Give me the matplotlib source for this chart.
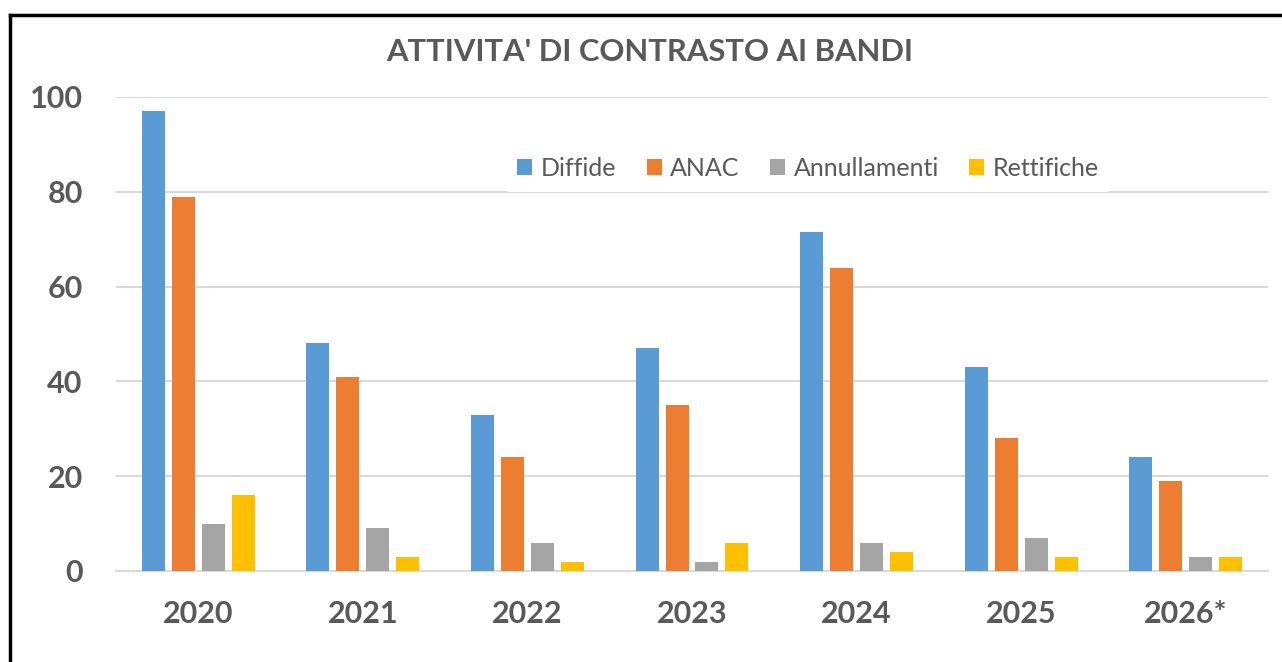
import numpy as np
import matplotlib
matplotlib.use('Agg')
import matplotlib.pyplot as plt
from matplotlib.lines import Line2D

# data
years = ['2020', '2021', '2022', '2023', '2024', '2025', '2026*']
diffide = [97, 48, 33, 47, 71.5, 43, 24]
anac = [79, 41, 24, 35, 64, 28, 19]
annullamenti = [10, 9, 6, 2, 6, 7, 3]
rettifiche = [16, 3, 2, 6, 4, 3, 3]

series_names = ['Diffide', 'ANAC', 'Annullamenti', 'Rettifiche']
colors = ['#5B9BD5', '#ED7D31', '#A5A5A5', '#FFC000']
text_col = '#595959'

plt.rcParams['font.family'] = ['Lato', 'DejaVu Sans']

fig = plt.figure(figsize=(12.82, 6.62), dpi=100)
ax = fig.add_axes([116/1282, 1 - 571/662, (1268-116)/1282, (571-97)/662])

x = np.arange(len(years))
step = 0.182
width = 0.14
for i, (vals, name) in enumerate(zip([diffide, anac, annullamenti, rettifiche], series_names)):
    ax.bar(x + (i - 1.5) * step, vals, width, color=colors[i], label=name, zorder=3)

ax.set_xlim(-0.5, len(years) - 0.5)
ax.set_ylim(0, 100)
ax.set_yticks(range(0, 101, 20))
ax.set_xticks(x)
ax.set_xticklabels(years)
ax.grid(axis='y', color='#D9D9D9', lw=1.5, zorder=0)
ax.set_axisbelow(True)
for s in ['top', 'right', 'left']:
    ax.spines[s].set_visible(False)
ax.spines['bottom'].set_color('#D9D9D9')
ax.spines['bottom'].set_linewidth(1.5)
ax.tick_params(axis='both', length=0, colors=text_col)
ax.tick_params(axis='x', pad=21, labelsize=22)
ax.tick_params(axis='y', pad=24, labelsize=22)
for lab in ax.get_xticklabels() + ax.get_yticklabels():
    lab.set_fontweight('bold')

fig.text(650/1282, 1 - 52/662, "ATTIVITA' DI CONTRASTO AI BANDI", ha='center', va='center',
         fontsize=22.3, fontweight='bold', color=text_col)

leg = fig.legend(loc='center', bbox_to_anchor=(808/1282, 1 - 168/662), ncol=4,
                 fontsize=18, frameon=True, framealpha=1, edgecolor='none',
                 facecolor='white', handlelength=0.6, handleheight=0.6,
                 handletextpad=0.35, columnspacing=1.2, borderpad=0.5)
for t in leg.get_texts():
    t.set_color(text_col)

# black frame on top and left edge
fig.add_artist(Line2D([10/1282, 1], [1 - 15/662, 1 - 15/662], color='black', lw=2.5))
fig.add_artist(Line2D([10/1282, 10/1282], [0, 1 - 15/662], color='black', lw=2.5))

fig.savefig('out.png', dpi=100)
